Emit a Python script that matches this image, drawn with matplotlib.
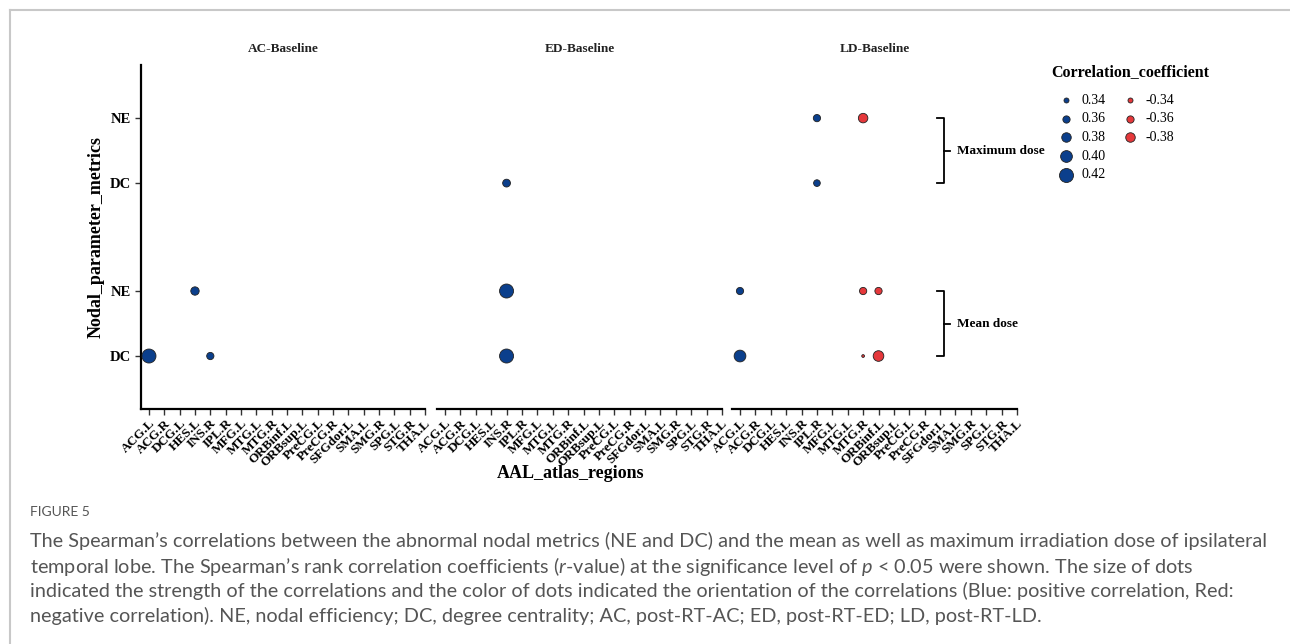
import matplotlib
matplotlib.use("Agg")
import matplotlib.pyplot as plt
from matplotlib.lines import Line2D

plt.rcParams['font.family'] = ['Liberation Serif', 'DejaVu Serif']
plt.rcParams['mathtext.fontset'] = 'custom'
plt.rcParams['mathtext.rm'] = 'Lato'
plt.rcParams['mathtext.it'] = 'Lato:italic'

# ---- data ----
regions = ["ACG.L", "ACG.R", "DCG.L", "HES.L", "INS.R", "IPL.R", "MFG.L", "MTG.L",
           "MTG.R", "ORBinf.L", "ORBsup.L", "PreCG.L", "PreCG.R", "SFGdor.L",
           "SMA.L", "SMG.R", "SPG.L", "STG.R", "THA.L"]
panels = ["AC-Baseline", "ED-Baseline", "LD-Baseline"]
row_labels = ["DC", "NE", "DC", "NE"]          # mean dose DC/NE, maximum dose DC/NE
row_pos = [0, 1, 2.66, 3.66]

# per panel: region, row index, correlation r
ac_region = ["ACG.L", "HES.L", "INS.R"]
ac_row = [0, 1, 0]
ac_r = [0.42, 0.37, 0.36]

ed_region = ["INS.R", "INS.R", "INS.R"]
ed_row = [2, 1, 0]
ed_r = [0.365, 0.42, 0.42]

ld_region = ["IPL.R", "MTG.R", "IPL.R", "ACG.L", "MTG.R", "ORBinf.L", "ACG.L", "MTG.R", "ORBinf.L"]
ld_row = [3, 3, 2, 1, 1, 1, 0, 0, 0]
ld_r = [0.36, -0.38, 0.355, 0.36, -0.36, -0.36, 0.40, -0.32, -0.39]

legend_pos = [0.34, 0.36, 0.38, 0.40, 0.42]
legend_neg = [-0.34, -0.36, -0.38]

BLUE = "#0b3f8c"
RED = "#e5383b"


def dot_size(r):
    d_px = 5 + (abs(r) - 0.34) * 112.5
    return (d_px * 0.72) ** 2


fig = plt.figure(figsize=(12.9, 6.44), dpi=100)
W, H = 1290.0, 644.0

def px_axes(x0, x1, y0, y1):
    return fig.add_axes([x0 / W, 1 - y1 / H, (x1 - x0) / W, (y1 - y0) / H])

ax_bounds = [(141, 425), (437, 722), (732, 1017)]
data = [(ac_region, ac_row, ac_r), (ed_region, ed_row, ed_r), (ld_region, ld_row, ld_r)]
axes = []
for i, (name, (x0, x1), (reg, row, rr)) in enumerate(zip(panels, ax_bounds, data)):
    ax = px_axes(x0, x1, 65, 409)
    axes.append(ax)
    xs = [regions.index(g) for g in reg]
    ys = [row_pos[k] for k in row]
    cols = [BLUE if v > 0 else RED for v in rr]
    ax.scatter(xs, ys, s=[dot_size(v) for v in rr], c=cols,
               edgecolors="#222222", linewidths=0.6, zorder=3, clip_on=False)
    ax.set_xlim(-0.52, 18.0)
    ax.set_ylim(-0.815, 4.477)
    ax.set_xticks(range(len(regions)))
    ax.set_xticklabels(regions, rotation=45, ha="right", rotation_mode="anchor",
                       fontsize=9.5, fontweight="bold")
    for s in ["top", "right"]:
        ax.spines[s].set_visible(False)
    ax.spines["bottom"].set_linewidth(1.6)
    ax.tick_params(axis="x", length=4, width=1, pad=2, color="#333333")
    if i == 0:
        ax.spines["left"].set_linewidth(1.6)
        ax.set_yticks(row_pos)
        ax.set_yticklabels(row_labels, fontsize=10.5, fontweight="bold")
        ax.tick_params(axis="y", length=4, width=1, pad=3, color="#333333")
    else:
        ax.spines["left"].set_visible(False)
        ax.set_yticks([])
    ax.set_title(name, fontsize=9.5, fontweight="bold", pad=9, color="#222222")

# brackets on the right side of LD panel
ld = axes[2]
for lo, hi, lab in [(row_pos[2], row_pos[3], "Maximum dose"), (row_pos[0], row_pos[1], "Mean dose")]:
    ld.plot([12.83, 13.28, 13.28, 12.83], [hi, hi, lo, lo], color="black", lw=1.3, clip_on=False)
    mid = (lo + hi) / 2
    ld.plot([13.28, 13.63], [mid, mid], color="black", lw=1.3, clip_on=False)
    ld.text(14.07, mid, lab, fontsize=9.5, fontweight="bold", va="center", ha="left")

# axis labels
fig.text(96 / W, 1 - 237 / H, "Nodal_parameter_metrics", rotation=90, ha="center",
         va="center", fontsize=13, fontweight="bold")
fig.text(571 / W, 1 - 474 / H, "AAL_atlas_regions", ha="center", va="center",
         fontsize=13, fontweight="bold")

# legend drawn in pixel space
leg = fig.add_axes([0, 0, 1, 1], facecolor="none")
leg.set_xlim(0, W)
leg.set_ylim(H, 0)
leg.axis("off")
leg.text(1130, 72, "Correlation_coefficient", ha="center", va="center",
         fontsize=11.5, fontweight="bold")
for k, v in enumerate(legend_pos):
    y = 100 + k * 18.7
    leg.scatter([1066], [y], s=dot_size(v), c=BLUE, edgecolors="#222222", linewidths=0.6)
    leg.text(1081, y, f"{v:.2f}", va="center", ha="left", fontsize=10)
for k, v in enumerate(legend_neg):
    y = 100 + k * 18.7
    leg.scatter([1130], [y], s=dot_size(v), c=RED, edgecolors="#222222", linewidths=0.6)
    leg.text(1145, y, f"{v:.2f}", va="center", ha="left", fontsize=10)

# frame lines
leg.add_line(Line2D([10, 10], [10, H], color="#c8c8c8", lw=1.5))
leg.add_line(Line2D([10, W], [10, 10], color="#c8c8c8", lw=1.5))

# caption
cap_font = ['Lato', 'DejaVu Sans']
leg.text(30, 512, "FIGURE 5", fontsize=10, color="#555555", family=cap_font,
         va="center", ha="left")
caption = [
    "The Spearman\u2019s correlations between the abnormal nodal metrics (NE and DC) and the mean as well as maximum irradiation dose of ipsilateral",
    "temporal lobe. The Spearman\u2019s rank correlation coefficients ($\\mathit{r}$-value) at the significance level of $\\mathit{p}$ < 0.05 were shown. The size of dots",
    "indicated the strength of the correlations and the color of dots indicated the orientation of the correlations (Blue: positive correlation, Red:",
    "negative correlation). NE, nodal efficiency; DC, degree centrality; AC, post-RT-AC; ED, post-RT-ED; LD, post-RT-LD.",
]
for k, line in enumerate(caption):
    leg.text(30, 541 + k * 25, line, fontsize=14.3, color="#555555", family=cap_font,
             va="center", ha="left")

fig.savefig("out.png", dpi=100)
